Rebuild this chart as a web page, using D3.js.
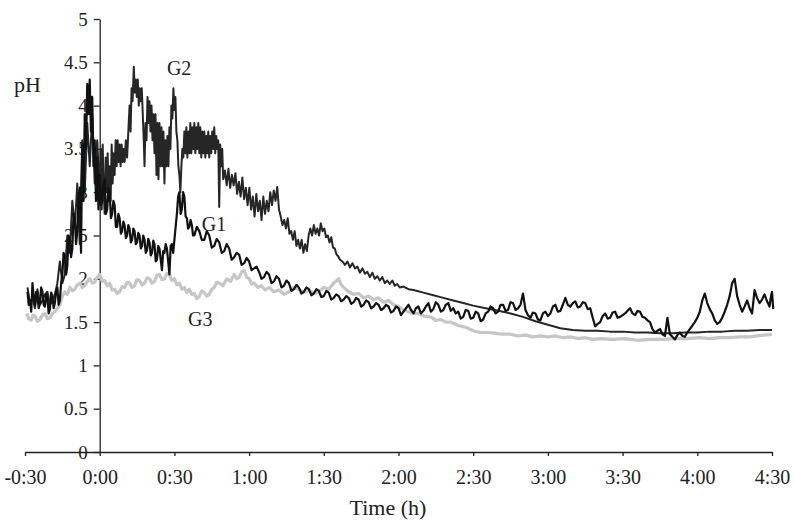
<!DOCTYPE html>
<html lang="en">
<head>
  <meta charset="UTF-8" />
  <title>Gastric pH</title>
  <script src="https://d3js.org/d3.v7.min.js"></script>
  <style>
    html, body {
      margin: 0;
      padding: 0;
      background: #fff;
    }
    svg {
      display: block;
      font-family: "Liberation Serif", "Times New Roman", serif;
    }
  </style>
</head>
<body>
<svg width="794" height="525"></svg>
<script>
  // time in minutes relative to 0:00, pH value
  const xTicks = [-30, 0, 30, 60, 90, 120, 150, 180, 210, 240, 270];
  const xTickLabels = ["-0:30", "0:00", "0:30", "1:00", "1:30", "2:00", "2:30", "3:00", "3:30", "4:00", "4:30"];
  const yTicks = [0, 0.5, 1, 1.5, 2, 2.5, 3, 3.5, 4, 4.5, 5];

  const g1 = [
    [-29, 1.85], [-28.5, 1.7], [-28, 1.75], [-27.5, 1.62], [-27, 1.95], [-26.5, 1.8], [-26, 1.7], [-25.5, 1.85],
    [-25, 1.8], [-24.5, 1.66], [-24, 1.72], [-23.5, 1.9], [-23, 1.85], [-22.5, 1.7], [-22, 1.68], [-21.5, 1.82],
    [-21, 1.78], [-20.5, 1.6], [-20, 1.65], [-19.5, 1.84], [-19, 1.8], [-18.5, 1.66], [-18, 1.72], [-17.5, 1.86],
    [-17, 1.9], [-16.5, 1.7], [-16, 1.75], [-15.5, 1.95], [-15, 2.05], [-14.5, 2.3], [-14, 2.25], [-13.5, 2.05],
    [-13, 2.15], [-12.5, 2.5], [-12, 2.45], [-11.5, 2.25], [-11, 2.35], [-10.5, 2.75], [-10, 2.7], [-9.5, 2.4],
    [-9, 2.55], [-8.5, 2.95], [-8, 3.05], [-7.5, 2.3], [-7, 3.55], [-6.5, 2.9], [-6, 3.9], [-5.5, 3.5],
    [-5, 4.25], [-4.5, 3.9], [-4, 4.3], [-3.5, 3.7], [-3, 4.1], [-2.5, 3.3], [-2, 3.6], [-1.5, 2.9],
    [-1, 3.4], [-0.5, 2.8], [0, 3.2], [0.5, 2.85], [1, 2.9], [1.5, 3.1], [2, 3.15], [2.5, 2.75], [3, 2.8],
    [3.5, 3.05], [4, 3.0], [4.5, 2.7], [5, 2.75], [5.5, 2.9], [6, 2.85], [6.5, 2.6], [7, 2.6], [7.5, 2.75],
    [8, 2.7], [8.5, 2.52], [9, 2.55], [9.5, 2.66], [10, 2.62], [10.5, 2.47], [11, 2.5], [11.5, 2.62],
    [12, 2.58], [12.5, 2.42], [13, 2.45], [13.5, 2.58], [14, 2.55], [14.5, 2.4], [15, 2.42], [15.5, 2.53],
    [16, 2.5], [16.5, 2.35], [17, 2.38], [17.5, 2.5], [18, 2.45], [18.5, 2.3], [19, 2.33], [19.5, 2.46],
    [20, 2.42], [20.5, 2.27], [21, 2.3], [21.5, 2.44], [22, 2.4], [22.5, 2.2], [23, 2.22], [23.5, 2.38],
    [24, 2.35], [25, 2.1], [25.5, 2.32], [26, 2.3], [26.5, 2.4], [27, 2.35], [28, 2.05], [28.5, 2.38],
    [29, 2.4], [29.5, 2.3], [30, 2.45], [30.5, 2.6], [31, 2.75], [31.5, 2.95], [32, 3.0], [32.5, 2.75],
    [33, 2.8], [33.5, 3.0], [34, 2.95], [34.5, 2.72], [35, 2.7], [35.5, 2.58], [36, 2.6], [36.5, 2.68],
    [37, 2.62], [37.5, 2.5], [38, 2.5], [39, 2.6], [40, 2.55], [41, 2.45], [42, 2.45], [43, 2.55],
    [44, 2.5], [45, 2.36], [46, 2.38], [47, 2.46], [48, 2.42], [49, 2.3], [50, 2.32], [51, 2.4],
    [52, 2.35], [53, 2.22], [54, 2.25], [55, 2.3], [56, 2.28], [57, 2.16], [58, 2.18], [59, 2.24],
    [60, 2.2], [61, 2.1], [62, 2.12], [63, 2.14], [64, 2.08], [65, 2.0], [66, 2.02], [67, 2.08],
    [68, 2.05], [69, 1.95], [70, 1.97], [71, 2.03], [72, 2.0], [73, 1.9], [74, 1.92], [75, 1.98],
    [76, 1.95], [77, 1.86], [78, 1.88], [79, 1.93], [80, 1.9], [81, 1.83], [82, 1.85], [83, 1.9],
    [84, 1.88], [85, 1.81], [86, 1.83], [87, 1.88], [88, 1.86], [89, 1.79], [90, 1.8], [91, 1.86],
    [92, 1.84], [93, 1.76], [94, 1.78], [95, 1.82], [96, 1.8], [97, 1.74], [98, 1.76], [99, 1.8],
    [100, 1.78], [101, 1.71], [102, 1.73], [103, 1.78], [104, 1.76], [105, 1.68], [106, 1.7], [107, 1.75],
    [108, 1.73], [109, 1.66], [110, 1.68], [111, 1.72], [112, 1.7], [113, 1.64], [114, 1.66], [115, 1.7],
    [116, 1.68], [117, 1.61], [118, 1.63], [119, 1.68], [120, 1.66], [121, 1.58], [122, 1.62], [123, 1.66],
    [124, 1.7], [125, 1.64], [126, 1.6], [127, 1.66], [128, 1.68], [129, 1.6], [130, 1.63], [131, 1.68],
    [132, 1.72], [133, 1.62], [134, 1.65], [135, 1.73], [136, 1.7], [137, 1.62], [138, 1.64], [139, 1.7],
    [140, 1.72], [141, 1.63], [142, 1.66], [143, 1.6], [144, 1.62], [145, 1.54], [146, 1.56], [147, 1.64],
    [148, 1.63], [149, 1.54], [150, 1.55], [151, 1.62], [152, 1.6], [153, 1.51], [154, 1.53], [155, 1.6],
    [156, 1.62], [157, 1.68], [158, 1.66], [159, 1.6], [160, 1.62], [161, 1.7], [162, 1.7], [163, 1.63],
    [164, 1.64], [165, 1.73], [166, 1.72], [167, 1.64], [168, 1.66], [169, 1.7], [170, 1.83], [171, 1.64],
    [172, 1.58], [173, 1.55], [174, 1.61], [175, 1.6], [176, 1.53], [177, 1.52], [178, 1.6], [179, 1.62],
    [180, 1.57], [181, 1.6], [182, 1.68], [183, 1.7], [184, 1.62], [185, 1.63], [186, 1.7], [187, 1.78],
    [188, 1.7], [189, 1.68], [190, 1.72], [191, 1.74], [192, 1.67], [193, 1.68], [194, 1.73], [195, 1.72],
    [196, 1.65], [197, 1.66], [198, 1.55], [199, 1.45], [200, 1.48], [201, 1.5], [202, 1.57], [203, 1.6],
    [204, 1.54], [205, 1.55], [206, 1.61], [207, 1.62], [208, 1.55], [209, 1.56], [210, 1.58], [211, 1.6],
    [212, 1.63], [213, 1.66], [214, 1.6], [215, 1.58], [216, 1.63], [217, 1.62], [218, 1.56], [219, 1.55],
    [220, 1.52], [221, 1.5], [222, 1.42], [223, 1.38], [224, 1.4], [225, 1.42], [226, 1.36], [227, 1.34],
    [228, 1.55], [229, 1.36], [230, 1.33], [231, 1.3], [232, 1.35], [233, 1.38], [234, 1.34], [235, 1.33],
    [236, 1.38], [237, 1.42], [238, 1.46], [239, 1.5], [240, 1.55], [241, 1.62], [242, 1.75], [243, 1.83],
    [244, 1.72], [245, 1.65], [246, 1.6], [247, 1.52], [248, 1.48], [249, 1.5], [250, 1.55], [251, 1.62],
    [252, 1.7], [253, 1.8], [254, 1.95], [255, 2.0], [256, 1.8], [257, 1.7], [258, 1.62], [259, 1.68],
    [260, 1.75], [261, 1.66], [262, 1.6], [263, 1.87], [264, 1.78], [265, 1.72], [266, 1.76], [267, 1.82],
    [268, 1.74], [269, 1.68], [269.5, 1.78], [270, 1.85], [270.5, 1.65]
  ];

  const g2 = [
    [-29, 1.9], [-28, 1.72], [-27, 1.78], [-26, 1.66], [-25, 1.88], [-24, 1.7], [-23, 1.75], [-22, 1.82],
    [-21, 1.85], [-20, 1.7], [-19, 1.74], [-18, 1.82], [-17, 1.95], [-16, 2.2], [-15, 1.95], [-14, 2.05],
    [-13, 2.5], [-12, 2.3], [-11, 2.9], [-10, 2.6], [-9, 3.1], [-8, 2.4], [-7, 3.6], [-6, 3.0],
    [-5, 3.8], [-4, 3.3], [-3, 3.9], [-2, 3.1], [-1, 3.6], [0, 3.0], [0.4, 3.5], [0.8, 2.8], [1.2, 3.55],
    [1.6, 3.0], [2, 2.75], [2.4, 3.4], [2.8, 3.0], [3.2, 3.45], [3.6, 2.9], [4, 3.3], [4.4, 2.9], [4.8, 3.55],
    [5.2, 3.1], [5.6, 3.45], [6, 3.2], [6.4, 3.6], [6.8, 3.3], [7.2, 3.6], [7.6, 3.35], [8, 3.55], [8.4, 3.3],
    [8.8, 3.55], [9.2, 3.35], [9.6, 3.5], [10, 3.35], [10.5, 3.6], [11, 3.4], [11.5, 3.7], [12, 4.0],
    [12.4, 3.7], [12.8, 4.2], [13.2, 4.05], [13.7, 4.45], [14.1, 4.15], [14.5, 4.3], [14.9, 4.1], [15.3, 4.3],
    [15.7, 4.0], [16.1, 4.2], [16.5, 4.05], [16.9, 4.2], [17.3, 3.9], [17.7, 3.6], [18, 3.3], [18.4, 3.8],
    [18.8, 3.6], [19.2, 4.1], [19.6, 3.8], [20, 4.05], [20.4, 3.7], [20.8, 4.0], [21.2, 3.6], [21.6, 3.9],
    [22, 3.45], [22.4, 3.9], [22.8, 3.2], [23.2, 3.8], [23.6, 3.15], [24, 3.8], [24.4, 3.3], [24.8, 3.75],
    [25.2, 3.3], [25.6, 3.7], [26, 3.1], [26.4, 3.6], [26.8, 3.3], [27.2, 3.65], [27.6, 3.3], [28, 3.75],
    [28.4, 3.5], [28.8, 4.0], [29.2, 3.85], [29.6, 4.2], [30, 3.95], [30.4, 4.1], [30.8, 3.7], [31.2, 3.6],
    [31.6, 3.3], [32, 3.2], [32.4, 3.0], [32.8, 3.3], [33.2, 3.5], [33.6, 3.4], [34, 3.7], [34.4, 3.45],
    [34.8, 3.75], [35.2, 3.4], [35.6, 3.7], [36, 3.45], [36.4, 3.8], [36.8, 3.45], [37.2, 3.75], [37.6, 3.5],
    [38, 3.8], [38.4, 3.45], [38.8, 3.75], [39.2, 3.5], [39.6, 3.8], [40, 3.45], [40.4, 3.75], [40.8, 3.4],
    [41.2, 3.7], [41.6, 3.45], [42, 3.7], [42.4, 3.4], [42.8, 3.65], [43.2, 3.45], [43.6, 3.7], [44, 3.4],
    [44.4, 3.65], [44.8, 3.45], [45.2, 3.7], [45.6, 3.5], [46, 3.75], [46.4, 3.45], [46.8, 3.65], [47.2, 3.5],
    [47.6, 3.6], [48, 2.83], [48.4, 3.55], [48.8, 3.3], [49.2, 3.5], [49.6, 3.15], [50.3, 3.25], [51, 3.08],
    [51.7, 3.27], [52.4, 3.05], [53.1, 3.2], [53.8, 3.08], [54.5, 3.22], [55.2, 2.98], [55.9, 3.12], [56.6, 2.95],
    [57.3, 3.17], [58, 2.92], [58.7, 3.05], [59.4, 2.85], [60.1, 3.05], [60.8, 2.8], [61.5, 2.95], [62.2, 2.72],
    [62.9, 2.98], [63.6, 2.78], [64.3, 2.9], [65, 2.68], [65.7, 2.95], [66.4, 2.75], [67.1, 2.9], [67.8, 2.78],
    [68.5, 3.0], [69.2, 2.85], [69.9, 3.02], [70.6, 2.9], [71.3, 3.06], [72, 2.8], [72.7, 2.72], [73.4, 2.62],
    [74.1, 2.68], [74.8, 2.58], [75.5, 2.7], [76.2, 2.52], [76.9, 2.55], [77.6, 2.45], [78.3, 2.55], [79, 2.38],
    [79.7, 2.45], [80.4, 2.35], [81.1, 2.45], [81.8, 2.3], [82.5, 2.4], [83.2, 2.32], [83.9, 2.5], [84.6, 2.58],
    [85.3, 2.5], [86, 2.62], [86.7, 2.52], [87.4, 2.58], [88.1, 2.5], [88.8, 2.64], [89.5, 2.55], [90.2, 2.58],
    [90.9, 2.48], [91.6, 2.5], [92.3, 2.42], [93, 2.48], [93.7, 2.36], [94.4, 2.35], [95.1, 2.28], [95.8, 2.26],
    [96.5, 2.22], [97.5, 2.2], [98.5, 2.16], [99.5, 2.2], [100.5, 2.13], [101.5, 2.18], [102.5, 2.12], [103.5, 2.14],
    [104.5, 2.07], [105.5, 2.12], [106.5, 2.06], [107.5, 2.08], [108.5, 2.02], [109.5, 2.07], [110.5, 2.0],
    [111.5, 2.03], [112.5, 1.98], [113.5, 2.02], [114.5, 1.95], [115.5, 1.98], [116.5, 1.94], [117.5, 1.98],
    [118.5, 1.92], [119.5, 1.94], [120.5, 1.9], [122, 1.91], [124, 1.88], [126, 1.87], [130, 1.84],
    [134, 1.81], [138, 1.78], [142, 1.75], [146, 1.72], [150, 1.69], [155, 1.66], [160, 1.63], [165, 1.6],
    [170, 1.56], [175, 1.51], [180, 1.47], [185, 1.43], [190, 1.41], [195, 1.4], [200, 1.4], [205, 1.39],
    [210, 1.39], [215, 1.38], [220, 1.38], [225, 1.37], [230, 1.37], [235, 1.38], [240, 1.38], [245, 1.39],
    [250, 1.39], [255, 1.4], [260, 1.4], [265, 1.41], [270, 1.41]
  ];

  const g3 = [
    [-29.3, 1.6], [-28.5, 1.54], [-27.5, 1.52], [-26.8, 1.58], [-26, 1.57], [-25, 1.51], [-24, 1.53],
    [-23, 1.58], [-22, 1.6], [-21, 1.54], [-20, 1.55], [-19, 1.6], [-18, 1.62], [-17, 1.66], [-16, 1.7],
    [-15, 1.8], [-14, 1.85], [-13, 1.82], [-12, 1.9], [-11, 1.86], [-10, 1.88], [-9, 1.93], [-8, 1.95],
    [-7, 1.9], [-6, 1.92], [-5, 1.97], [-4, 2.0], [-3, 1.95], [-2, 1.96], [-1, 2.02], [0, 2.05], [1, 1.97],
    [2, 1.98], [3, 1.92], [4, 1.95], [5, 1.87], [6, 1.88], [7, 1.83], [8, 1.85], [9, 1.91], [10, 1.9],
    [11, 1.96], [12, 1.95], [13, 1.9], [14, 1.92], [15, 1.99], [16, 1.98], [17, 1.93], [18, 1.95], [19, 2.01],
    [20, 2.0], [21, 1.95], [22, 1.97], [23, 2.04], [24, 2.05], [25, 1.99], [26, 2.0], [27, 2.06], [28, 2.05],
    [29, 1.98], [30, 2.0], [31, 1.93], [32, 1.95], [33, 1.88], [34, 1.9], [35, 1.84], [36, 1.88], [37, 1.82],
    [38, 1.83], [39, 1.77], [40, 1.8], [41, 1.86], [42, 1.84], [43, 1.8], [44, 1.82], [45, 1.88], [46, 1.9],
    [47, 1.96], [48, 1.95], [49.5, 1.92], [51, 2.0], [52.5, 1.97], [54, 2.05], [55, 2.0], [56, 2.02],
    [57, 2.08], [58, 2.1], [59, 2.02], [60, 2.0], [61, 1.94], [62, 1.95], [63.5, 1.9], [65, 1.92], [66.5, 1.87],
    [68, 1.9], [70, 1.85], [72, 1.87], [74, 1.82], [76, 1.85], [78, 1.9], [80, 1.88], [82, 1.84], [84, 1.87],
    [86, 1.83], [88, 1.85], [90, 1.9], [92, 1.88], [94, 1.95], [96, 2.0], [97, 1.93], [98, 1.9], [100, 1.85],
    [102, 1.82], [104, 1.83], [106, 1.78], [108, 1.8], [110, 1.76], [112, 1.78], [114, 1.73], [116, 1.75],
    [118, 1.7], [120, 1.68], [122, 1.64], [124, 1.62], [126, 1.6], [128, 1.6], [130, 1.57], [133, 1.56],
    [135, 1.52], [137, 1.53], [139, 1.5], [141, 1.5], [144, 1.46], [147, 1.44], [150, 1.4], [153, 1.38],
    [156, 1.38], [159, 1.37], [162, 1.36], [165, 1.36], [168, 1.34], [171, 1.35], [174, 1.33], [177, 1.34],
    [180, 1.33], [183, 1.34], [186, 1.32], [189, 1.33], [192, 1.31], [195, 1.32], [198, 1.3], [201, 1.31],
    [206, 1.3], [211, 1.31], [216, 1.29], [221, 1.3], [226, 1.3], [231, 1.31], [236, 1.31], [241, 1.32],
    [245, 1.31], [249, 1.32], [253, 1.32], [257, 1.33], [261, 1.33], [264, 1.34], [267, 1.35], [270, 1.36]
  ];

  const seriesLabels = [
    { text: "G2", t: 27, v: 4.35 },
    { text: "G1", t: 41, v: 2.55 },
    { text: "G3", t: 35.5, v: 1.45 }
  ];

  const svg = d3.select("svg");
  const x = d3.scaleLinear().domain([-30, 270]).range([25, 772]);
  const y = d3.scaleLinear().domain([0, 5]).range([452, 19]);

  // axes
  const xAxis = svg.append("g")
    .attr("transform", `translate(0,${y(0)})`)
    .call(d3.axisBottom(x).tickValues(xTicks).tickSize(4).tickSizeOuter(0)
      .tickFormat((d, i) => xTickLabels[i]));
  xAxis.select(".domain").attr("stroke", "#222").attr("stroke-width", 1.3);
  xAxis.selectAll(".tick line").attr("stroke", "#222").attr("stroke-width", 1.3);
  xAxis.selectAll(".tick text")
    .attr("font-size", 20).attr("fill", "#222").attr("dy", "1.25em")
    .attr("font-family", "Liberation Serif, Times New Roman, serif");

  const yAxis = svg.append("g")
    .attr("transform", `translate(${x(0)},0)`)
    .call(d3.axisLeft(y).tickValues(yTicks).tickSize(6).tickSizeOuter(0)
      .tickFormat(d => d3.format("")(d)));
  yAxis.select(".domain").attr("stroke", "#222").attr("stroke-width", 1.3);
  yAxis.selectAll(".tick line").attr("stroke", "#222").attr("stroke-width", 1.3);
  yAxis.selectAll(".tick text")
    .attr("font-size", 19).attr("fill", "#222").attr("x", -12)
    .attr("font-family", "Liberation Serif, Times New Roman, serif");

  const line = d3.line().x(d => x(d[0])).y(d => y(d[1]));

  svg.append("path").datum(g3)
    .attr("fill", "none").attr("stroke", "#c6c6c6").attr("stroke-width", 3.2)
    .attr("stroke-linejoin", "round").attr("d", line);
  svg.append("path").datum(g2)
    .attr("fill", "none").attr("stroke", "#262626").attr("stroke-width", 2)
    .attr("stroke-linejoin", "round").attr("d", line);
  svg.append("path").datum(g1)
    .attr("fill", "none").attr("stroke", "#111").attr("stroke-width", 2.2)
    .attr("stroke-linejoin", "round").attr("d", line);

  svg.selectAll(".series-label")
    .data(seriesLabels).join("text")
    .attr("class", "series-label")
    .attr("x", d => x(d.t)).attr("y", d => y(d.v))
    .attr("font-size", 20).attr("fill", "#222")
    .text(d => d.text);

  svg.append("text")
    .attr("x", 14).attr("y", 92)
    .attr("font-size", 22).attr("fill", "#222")
    .text("pH");

  svg.append("text")
    .attr("x", 388).attr("y", 515)
    .attr("text-anchor", "middle")
    .attr("font-size", 22).attr("fill", "#222")
    .text("Time (h)");
</script>
</body>
</html>
